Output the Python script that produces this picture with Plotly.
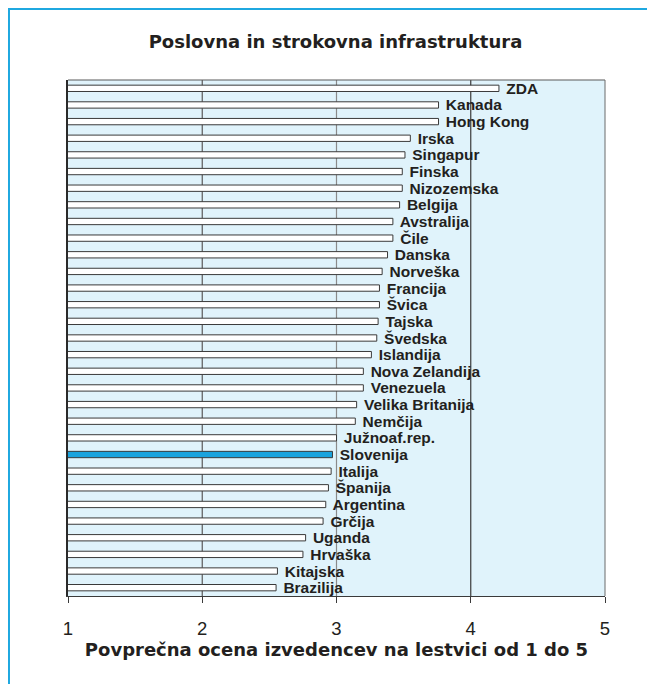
import plotly.graph_objects as go

countries = ["ZDA", "Kanada", "Hong Kong", "Irska", "Singapur", "Finska", "Nizozemska",
             "Belgija", "Avstralija", "Čile", "Danska", "Norveška", "Francija", "Švica",
             "Tajska", "Švedska", "Islandija", "Nova Zelandija", "Venezuela",
             "Velika Britanija", "Nemčija", "Južnoaf.rep.", "Slovenija", "Italija",
             "Španija", "Argentina", "Grčija", "Uganda", "Hrvaška", "Kitajska", "Brazilija"]
values = [4.21, 3.76, 3.76, 3.55, 3.51, 3.49, 3.49,
          3.47, 3.42, 3.42, 3.38, 3.34, 3.32, 3.32,
          3.31, 3.30, 3.26, 3.20, 3.20,
          3.15, 3.14, 3.00, 2.97, 2.96,
          2.94, 2.92, 2.90, 2.77, 2.75, 2.56, 2.55]
highlight = "Slovenija"
x_ticks = [1, 2, 3, 4, 5]

TXT = "#231f20"
FONT = "Liberation Sans, Arial, sans-serif"
WIDE = "DejaVu Sans, Liberation Sans, sans-serif"

fills = ["#1aa3dd" if c == highlight else "#ffffff" for c in countries]

fig = go.Figure()
fig.add_trace(go.Bar(
    x=values, y=countries, orientation="h",
    marker=dict(color=fills, line=dict(color="#3a3a3a", width=1)),
    text=countries, texttemplate=" %{text}", textposition="outside",
    constraintext="none", cliponaxis=False,
    textfont=dict(family=FONT, size=15.5, color=TXT, weight="bold"),
    hoverinfo="skip",
))

shapes = []
grid_cols = {2: "#5a5a5a", 3: "#8a8a8a", 4: "#3a3a3a"}
for gx, col in grid_cols.items():
    shapes.append(dict(type="line", xref="x", yref="paper", x0=gx, x1=gx, y0=0, y1=1,
                       line=dict(color=col, width=1.2), layer="below"))
# plot frame top/right
shapes.append(dict(type="line", xref="paper", yref="paper", x0=0, x1=1, y0=1, y1=1,
                   line=dict(color="#5a5a5a", width=1.2)))
shapes.append(dict(type="line", xref="paper", yref="paper", x0=1, x1=1, y0=0, y1=1,
                   line=dict(color="#6a6a6a", width=1)))
# outer blue frame
shapes.append(dict(type="rect", xref="paper", yref="paper",
                   x0=-0.1099, x1=1.3, y0=-0.4, y1=1.1375,
                   line=dict(color="#1fa8e0", width=2), fillcolor="rgba(0,0,0,0)"))

fig.update_layout(
    width=655, height=684,
    margin=dict(l=60, r=58, t=72, b=96),
    paper_bgcolor="white", plot_bgcolor="#e0f3fb",
    bargap=0.62, showlegend=False,
    title=dict(text="<b>Poslovna in strokovna infrastruktura</b>",
               x=0.5, xanchor="center", y=1 - 34 / 684, yanchor="middle",
               font=dict(family=WIDE, size=18, color=TXT)),
    font=dict(family=FONT, color=TXT),
    shapes=shapes,
)
fig.update_xaxes(
    range=[1, 5], tickvals=x_ticks, ticktext=[str(t) for t in x_ticks],
    showgrid=False, zeroline=False,
    showline=True, linecolor="#3a3a3a", linewidth=1.2,
    ticks="outside", ticklen=6, tickcolor="#3a3a3a", tickwidth=1.2,
    tickfont=dict(family=FONT, size=18.5, color=TXT),
    ticklabelstandoff=10,
    title=dict(text="<b>Povprečna ocena izvedencev na lestvici od 1 do 5</b>",
               font=dict(family=WIDE, size=18, color=TXT), standoff=5),
)
fig.update_yaxes(
    autorange="reversed", showticklabels=False, showgrid=False,
    showline=True, linecolor="#2a2a2a", linewidth=1.5, ticks="",
)

fig.write_html("out.html")
